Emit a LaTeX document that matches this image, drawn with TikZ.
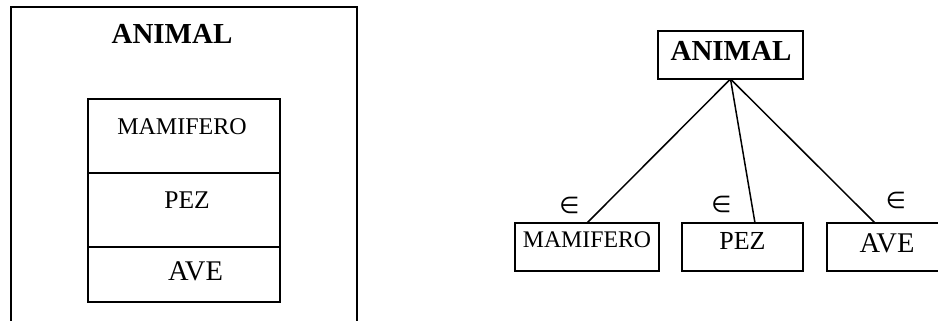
\documentclass[tikz,border=0pt]{standalone}
\usepackage{fontspec}
\setmainfont{Liberation Serif}
\newfontfamily\symfam{DejaVu Sans}
\begin{document}
\begin{tikzpicture}[x=1pt,y=-1pt,line width=1.5pt,
  box/.style={draw,inner sep=0pt,outer sep=0pt,anchor=north west},
  txt/.style={inner sep=0pt,anchor=base},
  elem/.style={inner sep=0pt,font=\symfam\fontsize{23}{23}\selectfont}]
\useasboundingbox (0,0) rectangle (938,321);
\clip (0,0) rectangle (938,321);
% ---- left: nested containment ----
\node[box,minimum width=346pt,minimum height=340pt] (outer) at (11,7) {};
\node[txt,font=\fontsize{29}{29}\bfseries\selectfont] (animalL) at (172,44) {ANIMAL};
\node[box,minimum width=192pt,minimum height=74pt] (mamL) at (88,99) {};
\node[box,minimum width=192pt,minimum height=74pt] (pezL) at (88,173) {};
\node[box,minimum width=192pt,minimum height=55pt] (aveL) at (88,247) {};
\node[txt,font=\fontsize{24}{24}\selectfont] (mamLt) at (182,135) {MAMIFERO};
\node[txt,font=\fontsize{25.5}{25.5}\selectfont] (pezLt) at (187,208) {PEZ};
\node[txt,font=\fontsize{28.5}{28.5}\selectfont] (aveLt) at (195.5,280) {AVE};
% ---- right: tree ----
\node[box,minimum width=145pt,minimum height=48pt] (animalR) at (658,31) {};
\node[txt,font=\fontsize{29}{29}\bfseries\selectfont] (animalRt) at (731,61) {ANIMAL};
\node[box,minimum width=144pt,minimum height=48pt] (mamR) at (515,223) {};
\node[box,minimum width=121pt,minimum height=48pt] (pezR) at (682,223) {};
\node[box,minimum width=140pt,minimum height=48pt] (aveR) at (827,223) {};
\node[txt,font=\fontsize{23.8}{23.8}\selectfont] (mamRt) at (587,247) {MAMIFERO};
\node[txt,font=\fontsize{26}{26}\selectfont] (pezRt) at (742.5,249) {PEZ};
\node[txt,font=\fontsize{28.5}{28.5}\selectfont] (aveRt) at (887,252) {AVE};
\coordinate (pezTop) at (755,223);
\coordinate (aveTop) at (875,223);
\draw (animalR.south) -- (mamR.north);
\draw (animalR.south) -- (pezTop);
\draw (animalR.south) -- (aveTop);
\node[elem] (e1) at (569.5,205.5) {∈};
\node[elem] (e2) at (721.5,204) {∈};
\node[elem] (e3) at (896,200.5) {∈};
\end{tikzpicture}
\end{document}
